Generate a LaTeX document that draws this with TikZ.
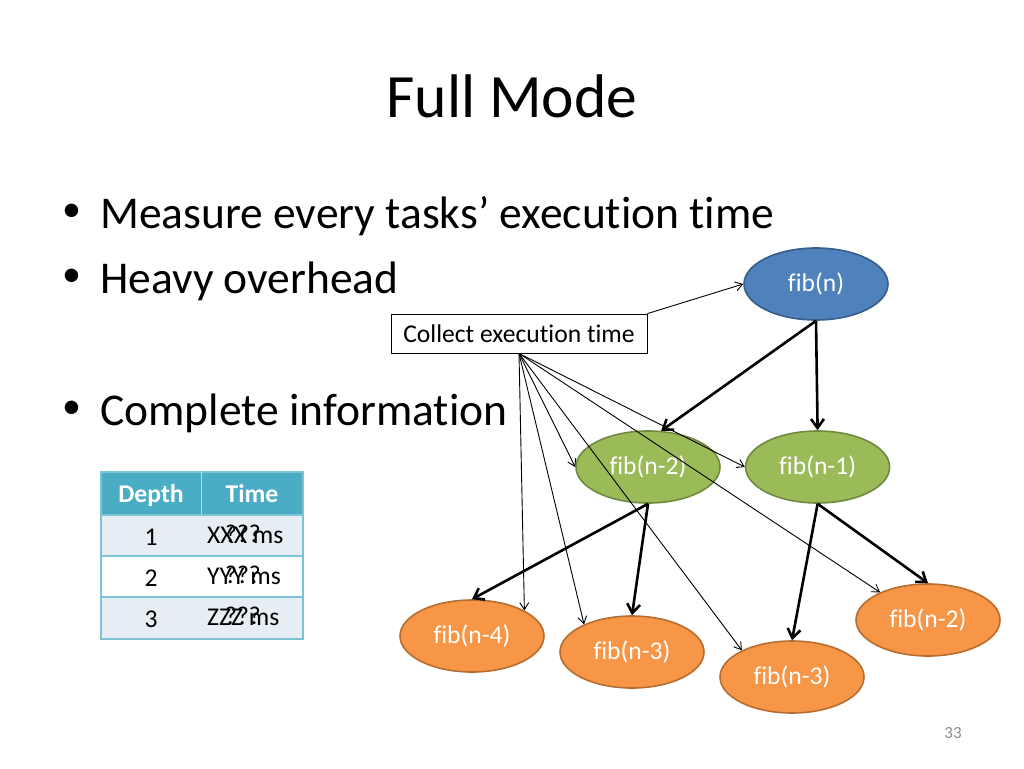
\documentclass[tikz,border=0pt]{standalone}
\usepackage{fontspec}
\setmainfont[Ligatures=NoCommon]{Carlito}
\usetikzlibrary{positioning,shapes.geometric,arrows.meta}

\definecolor{fibblue}{HTML}{4F81BD}
\definecolor{fibblueline}{HTML}{385D8A}
\definecolor{fibgreen}{HTML}{9BBB59}
\definecolor{fibgreenline}{HTML}{71893F}
\definecolor{fiborange}{HTML}{F79646}
\definecolor{fiborangeline}{HTML}{B66D31}
\definecolor{tabhead}{HTML}{4BACC6}
\definecolor{tabrow}{HTML}{E6EEF3}
\definecolor{tabline}{HTML}{7CC3D6}

\newcommand{\bul}{\makebox[42pt][l]{\hspace{4pt}\raisebox{7pt}{\fontsize{38}{38}\selectfont\textbullet}}}

\tikzset{
  fib/.style={ellipse,minimum width=144pt,minimum height=72pt,inner sep=0pt,
    line width=1.6pt,text=white,font=\fontsize{25.6}{30}\selectfont},
  call/.style={-{Straight Barb[length=9pt,width=13pt]},line width=2.6pt},
  timer/.style={-{Straight Barb[length=7pt,width=9pt]},line width=0.9pt},
  bullet/.style={anchor=base west,inner sep=0pt,font=\fontsize{45.5}{52}\selectfont},
  cell/.style={anchor=base,inner sep=0pt,font=\fontsize{25.6}{30}\selectfont}
}

\begin{document}
\begin{tikzpicture}[x=1pt,y=-1pt]
\useasboundingbox (0,0) rectangle (1024,768);

\node[anchor=base,inner sep=0pt,font=\fontsize{61.6}{70}\selectfont] (title) at (512,117) {Full Mode};
\node[bullet] (b1) at (58,228) {\bul Measure every tasks’ execution time};
\node[bullet] (b2) at (58,293) {\bul Heavy overhead};
\node[bullet] (b3) at (58,425) {\bul Complete information};

% table
\fill[tabhead] (101,472) rectangle (303,515);
\fill[tabrow] (101,515) rectangle (303,556);
\fill[tabrow] (101,597) rectangle (303,639);
\draw[tabline,line width=1.2pt] (101,472) rectangle (303,639);
\draw[tabline,line width=1.2pt] (101,515) -- (303,515) (101,556) -- (303,556) (101,597) -- (303,597);
\draw[white!60!tabhead,line width=0.8pt] (201,472) -- (201,515);
\node[cell,text=white,font=\bfseries\fontsize{25.6}{30}\selectfont] (h1) at (151,502) {Depth};
\node[cell,text=white,font=\bfseries\fontsize{25.6}{30}\selectfont] (h2) at (252,502) {Time};
\node[cell] (d1) at (151,545) {1};
\node[cell] (d2) at (151,586) {2};
\node[cell] (d3) at (151,627) {3};
\node[cell,anchor=base west] (t1) at (207,543) {XXX ms};
\node[cell,anchor=base west] (t2) at (207,584) {YYY ms};
\node[cell,anchor=base west] (t3) at (207,625) {ZZZ ms};
\node[cell,anchor=base west] (q1) at (225,542) {???};
\node[cell,anchor=base west] (q2) at (225,583) {???};
\node[cell,anchor=base west] (q3) at (225,624) {???};

% call tree
\node[fib,fill=fibblue,draw=fibblueline] (0) at (816,284) {fib(n)};
\node[fib,fill=fibgreen,draw=fibgreenline] (1) at (648,467) {fib(n-2)};
\node[fib,fill=fibgreen,draw=fibgreenline] (2) [right=24pt of 1] {fib(n-1)};
\node[fib,fill=fiborange,draw=fiborangeline] (3) at (472,636) {fib(n-4)};
\node[fib,fill=fiborange,draw=fiborangeline] (4) at (632,652) {fib(n-3)};
\node[fib,fill=fiborange,draw=fiborangeline] (5) at (792,677) {fib(n-3)};
\node[fib,fill=fiborange,draw=fiborangeline] (6) at (928,620) {fib(n-2)};

\node[draw,line width=0.8pt,fill=white,minimum width=256pt,minimum height=39pt,inner sep=0pt,
  font=\fontsize{25.6}{30}\selectfont] (c) at (519,333.5) {Collect execution time};

\draw[timer] (c.north east) -- (0.west);
\draw[timer] (c.south) -- (1.west);
\draw[timer] (c.south) -- (2.west);
\draw[timer] (c.south) -- (3.26);
\draw[timer] (c.south) -- (4.150);
\draw[timer] (c.south) -- (5.152);
\draw[timer] (c.south) -- (6.150);

\draw[call] (0.south) -- (1.70);
\draw[call] (0.south) -- (2.north);
\draw[call] (1.south) -- (3.north);
\draw[call] (1.south) -- (4.north);
\draw[call] (2.south) -- (5.north);
\draw[call] (2.south) -- (6.north);

\node[text=black!45,font=\fontsize{17}{20}\selectfont] (pg) at (953,733) {33};
\end{tikzpicture}
\end{document}
